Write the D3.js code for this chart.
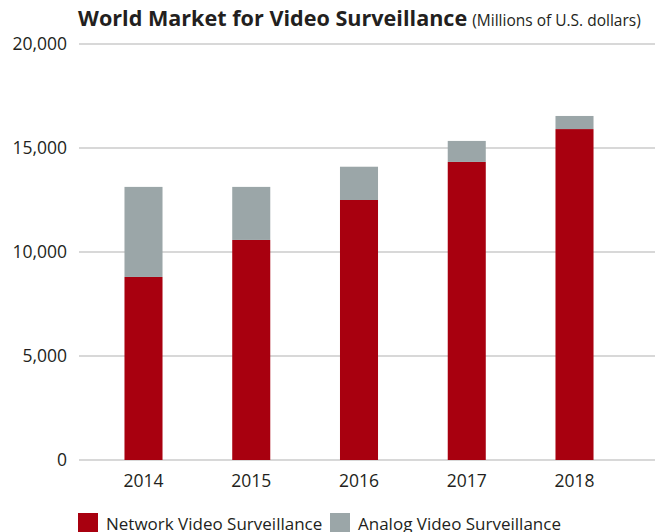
<!DOCTYPE html>
<html>
<head>
<meta charset="utf-8">
<script src="https://cdn.jsdelivr.net/npm/d3@7"></script>
<style>
  body { margin: 0; background: #fff; }
  svg { display: block; font-family: "Open Sans", "Noto Sans", sans-serif; }
</style>
</head>
<body>
<svg id="chart" width="663" height="532"></svg>
<script>
const years = ['2014', '2015', '2016', '2017', '2018'];
const network = [8800, 10580, 12500, 14330, 15910];
const analog = [4330, 2550, 1600, 1010, 630];
const yTicks = [0, 5000, 10000, 15000, 20000];
const seriesNames = ['Network Video Surveillance', 'Analog Video Surveillance'];
const colors = ['#a8000f', '#9ba6a8'];

const svg = d3.select('#chart');
const textColor = '#231f20';

const x = d3.scaleBand().domain(years).range([90, 628]).paddingInner(0.647).paddingOuter(0.32);
const y = d3.scaleLinear().domain([0, 20000]).range([460, 44]);

// gridlines + y labels
const grid = svg.append('g');
grid.selectAll('line').data(yTicks).enter().append('line')
  .attr('x1', 79).attr('x2', 655)
  .attr('y1', d => y(d)).attr('y2', d => y(d))
  .attr('stroke', '#cbcbcb').attr('stroke-width', 1.5);
grid.selectAll('text').data(yTicks).enter().append('text')
  .attr('x', 67).attr('y', d => y(d)).attr('dy', '0.35em')
  .attr('text-anchor', 'end').attr('font-size', 17.5).attr('fill', textColor)
  .text(d => d3.format(',')(d));

// stacked bars
const rows = years.map((yr, i) => ({ year: yr, network: network[i], analog: analog[i] }));
const stack = d3.stack().keys(['network', 'analog'])(rows);
svg.append('g').selectAll('g').data(stack).enter().append('g')
  .attr('fill', (d, i) => colors[i])
  .selectAll('rect').data(d => d).enter().append('rect')
  .attr('x', d => x(d.data.year))
  .attr('width', x.bandwidth())
  .attr('y', d => y(d[1]))
  .attr('height', d => y(d[0]) - y(d[1]));

// x labels
svg.append('g').selectAll('text').data(years).enter().append('text')
  .attr('x', d => x(d) + x.bandwidth() / 2).attr('y', 487)
  .attr('text-anchor', 'middle').attr('font-size', 17.5).attr('fill', textColor)
  .text(d => d);

// title
const title = svg.append('text').attr('x', 78).attr('y', 26).attr('fill', textColor);
title.append('tspan').attr('font-size', 21.6).attr('font-weight', 'bold')
  .text('World Market for Video Surveillance');
title.append('tspan').attr('font-size', 15.5).attr('dx', 5)
  .text('(Millions of U.S. dollars)');

// legend
const legendX = [78, 330];
const legend = svg.append('g').selectAll('g').data(seriesNames).enter().append('g')
  .attr('transform', (d, i) => `translate(${legendX[i]},513)`);
legend.append('rect').attr('width', 20).attr('height', 20).attr('fill', (d, i) => colors[i]);
legend.append('text').attr('x', 28).attr('y', 17).attr('font-size', 17).attr('fill', textColor)
  .text(d => d);
</script>
</body>
</html>
